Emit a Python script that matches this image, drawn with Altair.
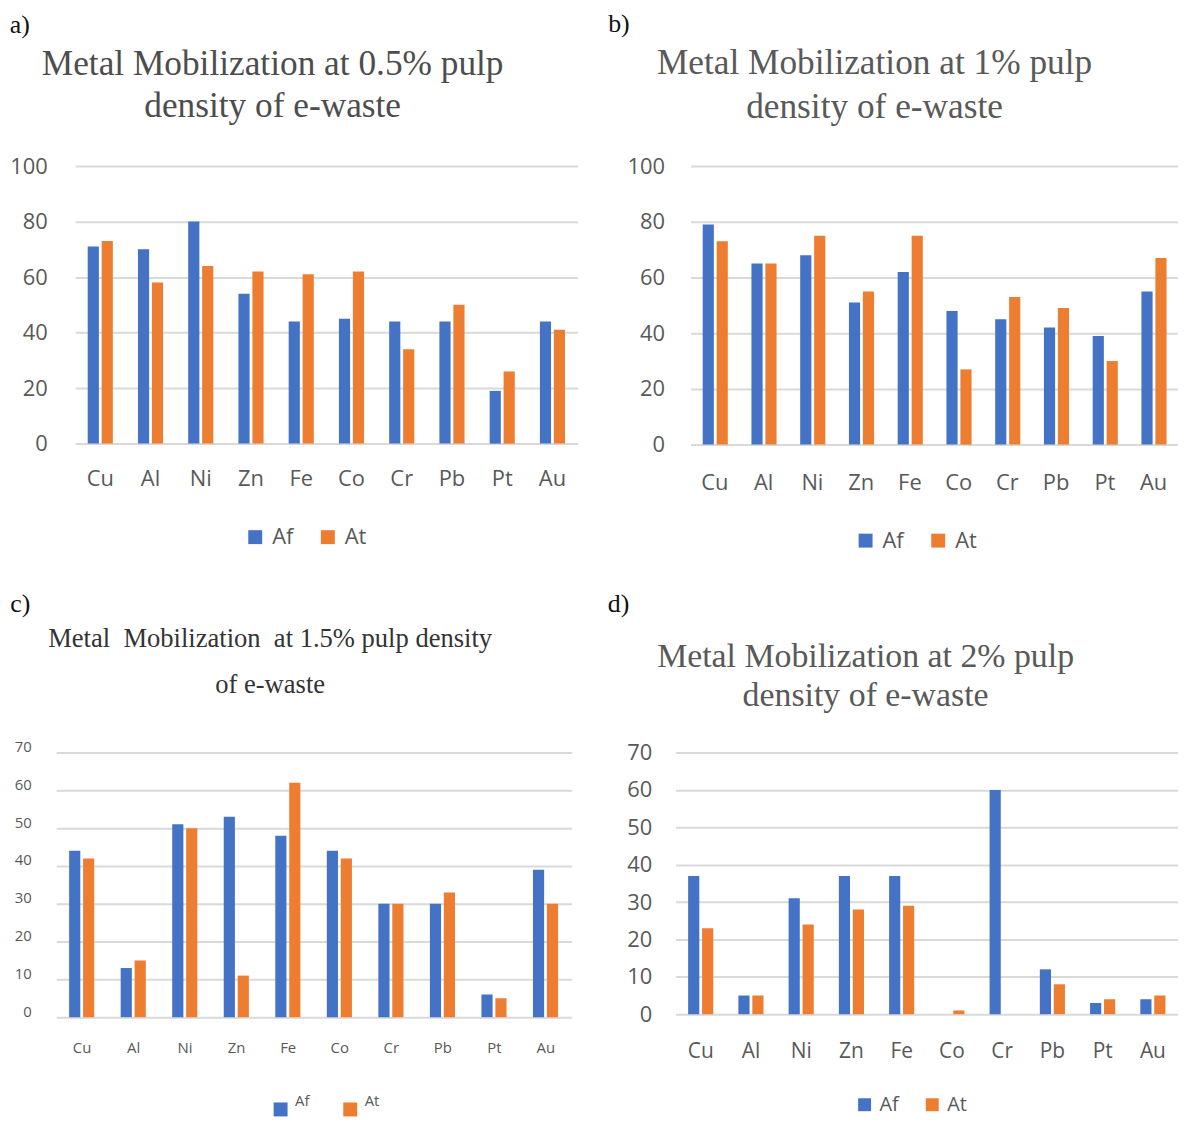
import altair as alt
import pandas as pd

metals = ["Cu", "Al", "Ni", "Zn", "Fe", "Co", "Cr", "Pb", "Pt", "Au"]
series = ["Af", "At"]
colors = ["#4472C4", "#ED7D31"]

af_a = [71, 70, 80, 54, 44, 45, 44, 44, 19, 44]
at_a = [73, 58, 64, 62, 61, 62, 34, 50, 26, 41]
af_b = [79, 65, 68, 51, 62, 48, 45, 42, 39, 55]
at_b = [73, 65, 75, 55, 75, 27, 53, 49, 30, 67]
af_c = [44, 13, 51, 53, 48, 44, 30, 30, 6, 39]
at_c = [42, 15, 50, 11, 62, 42, 30, 33, 5, 30]
af_d = [37, 5, 31, 37, 37, 0, 60, 12, 3, 4]
at_d = [23, 5, 24, 28, 29, 1, 0, 8, 4, 5]

title_a = ["Metal Mobilization at 0.5% pulp", "density of e-waste"]
title_b = ["Metal Mobilization at 1% pulp", "density of e-waste"]
title_c = ["Metal\u00a0 Mobilization\u00a0 at 1.5% pulp density", "of e-waste"]
title_d = ["Metal Mobilization at 2% pulp", "density of e-waste"]

SANS = "Open Sans"
SERIF = "Liberation Serif"
GRAY = "#595959"


def panel(letter, af, at, tlines, tsize, tline, tdx, toff, tcolor,
          w, h, ymax, ystep, ysize, ypad, yoff, xsize, xpad,
          lx, ly, lsize, lsym, lcol, loff, lbase, letter_dx, letter_off):
    df = pd.DataFrame({
        "metal": metals * 2,
        "series": ["Af"] * len(metals) + ["At"] * len(metals),
        "value": af + at,
    })
    bars = alt.Chart(df).mark_bar().encode(
        x=alt.X("metal:N", sort=metals,
                scale=alt.Scale(paddingInner=0.5, paddingOuter=0.25),
                axis=alt.Axis(title=None, labelAngle=0, ticks=False, tickSize=0,
                              domain=False, grid=False, labelFont=SANS,
                              labelFontSize=xsize, labelColor=GRAY,
                              labelPadding=xpad)),
        xOffset=alt.XOffset("series:N", sort=series,
                            scale=alt.Scale(paddingInner=0.2, paddingOuter=0)),
        y=alt.Y("value:Q", scale=alt.Scale(domain=[0, ymax], nice=False),
                axis=alt.Axis(title=None, values=list(range(0, ymax + 1, ystep)),
                              ticks=False, tickSize=0, domain=False,
                              gridColor="#d9d9d9", gridWidth=2,
                              labelFont=SANS, labelFontSize=ysize,
                              labelColor=GRAY, labelPadding=ypad,
                              labelOffset=yoff)),
        color=alt.Color("series:N", sort=series,
                        scale=alt.Scale(domain=series, range=colors),
                        legend=alt.Legend(title=None, orient="none",
                                          legendX=lx, legendY=ly,
                                          direction="horizontal",
                                          symbolType="square",
                                          symbolSize=lsym,
                                          symbolStrokeWidth=0,
                                          labelFont=SANS,
                                          labelFontSize=lsize,
                                          labelColor=GRAY,
                                          labelBaseline=lbase,
                                          columnPadding=lcol,
                                          labelOffset=loff,
                                          padding=0)),
    ).properties(
        width=w, height=h,
        title=alt.TitleParams(tlines, font=SERIF, fontSize=tsize,
                              fontWeight="normal", color=tcolor,
                              lineHeight=tline, anchor="middle",
                              frame="group", dx=tdx, offset=toff),
    )
    return alt.vconcat(
        bars,
        title=alt.TitleParams(letter, font=SERIF, fontSize=26,
                              fontWeight="normal", color="#111111",
                              anchor="start", dx=letter_dx,
                              offset=letter_off),
    ).resolve_scale(color="independent")


def spacer(w):
    return alt.Chart(pd.DataFrame({"v": [0]})).mark_point(
        size=0, opacity=0
    ).encode(
        x=alt.X("v:Q", axis=None, scale=alt.Scale(domain=[0, 1])),
        y=alt.Y("v:Q", axis=None, scale=alt.Scale(domain=[0, 1])),
    ).properties(width=w, height=1)


A = panel("a)", af_a, at_a, title_a, 35.5, 42, -54, 31, "#4d4d4d",
          505, 279, 100, 20, 22, 28, 0, 22, 25,
          170, 362, 22, 196, 23, 6, "middle", 0, 9)
B = panel("b)", af_b, at_b, title_b, 35.5, 44, -60, 30, "#595959",
          490, 280, 100, 20, 22, 26, 0, 22, 28,
          165, 365.5, 22, 196, 23, 6, "middle", -19, 9)
C = panel("c)", af_c, at_c, title_c, 26.7, 46, -44, 41, "#333333",
          518, 266, 70, 10, 15, 25, -6, 15, 24,
          218, 351, 15, 196, 33, 7, "bottom", -4, 9.5)
D = panel("d)", af_d, at_d, title_d, 34, 38.5, -61.5, 29, "#595959",
          505, 263, 70, 10, 22, 24, 0, 21, 27,
          180, 344, 20, 169, 23, 5, "middle", -19, 24)

row1 = alt.hconcat(spacer(7), A, B, spacing=30.5).resolve_scale(color="independent")
row2 = alt.hconcat(spacer(2), C, D, spacing=35.5).resolve_scale(color="independent")

chart = alt.vconcat(row1, row2, spacing=38.5).resolve_scale(
    color="independent"
).properties(
    padding={"left": -36, "top": 0, "right": 0, "bottom": 0}
).configure(background="white").configure_view(stroke=None)

chart.save("out.html", embed_options={"renderer": "svg", "actions": False})
